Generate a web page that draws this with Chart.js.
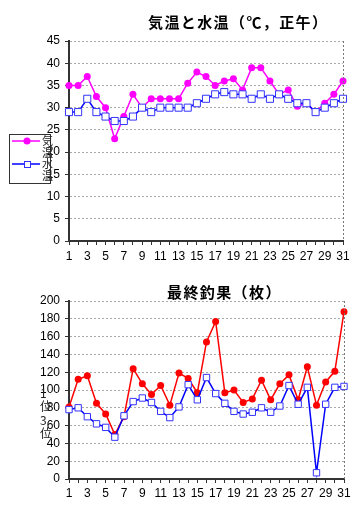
<!DOCTYPE html>
<html lang="ja">
<head>
<meta charset="UTF-8">
<title>気温と水温・最終釣果</title>
<script src="https://cdn.jsdelivr.net/npm/chart.js"></script>
<style>
    body { margin: 0; background: #fff; }
    #wrap { position: relative; width: 361px; height: 524px; overflow: hidden; }
    canvas { position: absolute; left: 0; }
    .title { position: absolute; font: bold 15px "Noto Sans CJK JP"; line-height: 15px; letter-spacing: 1.4px; white-space: nowrap; color: #000; }
    .lg { position: absolute; width: 12px; word-break: break-all; color: #222; font-family: "Noto Sans CJK JP"; }
</style>
</head>
<body>
<div id="wrap">
    <canvas id="tempChart" width="361" height="262" style="top:0"></canvas>
    <canvas id="catchChart" width="361" height="262" style="top:262px"></canvas>

    <div class="title" style="left:148px; top:14px">気温と水温（℃，正午）</div>
    <div class="title" style="left:167px; top:284px">最終釣果（枚）</div>

    <div class="lg" style="left:42px; top:135px; font-size:11px; line-height:11.5px">気温</div>
    <div class="lg" style="left:42px; top:158px; font-size:11px; line-height:11.5px">水温</div>
    <div class="lg" style="left:40px; top:386px; font-size:12px; line-height:13px">1位</div>
    <div class="lg" style="left:40px; top:413px; font-size:12px; line-height:13px">3位</div>
</div>

<script>
    // 日付 (1〜31日)
    const days = Array.from({length: 31}, (_, i) => String(i + 1));

    // 気温・水温 (℃, 正午)
    const airTemp = [35, 35, 37, 32.5, 30, 23, 28, 33, 30, 32, 32, 32, 32, 35.5, 38, 37,
                     35, 36, 36.5, 34, 39, 39, 36, 33, 34, 30.3, 31, 29, 31, 33, 36];
    const waterTemp = [29, 29, 32, 29, 28, 27, 27, 28, 30, 29, 30, 30, 30, 30, 31, 32,
                       33, 33.5, 33, 33, 32, 33, 32, 33, 32, 31, 31, 29, 30, 31, 32];

    // 最終釣果 (枚)
    const rank1 = [81, 112, 116, 85, 73, 50, 70, 124, 107, 95, 105, 83, 119, 113, 97, 154,
                   177, 97, 100, 86, 90, 111, 89, 107, 117, 89, 126, 83, 109, 121, 188];
    const rank3 = [78, 80, 70, 62, 58, 47, 71, 87, 91, 86, 76, 69, 81, 106, 89, 114,
                   96, 85, 76, 73, 75, 80, 75, 82, 105, 84, 103, 7, 84, 103, 104];

    const tickFont = {family: '"Liberation Sans", Arial, sans-serif', size: 12};

    // 右枠の点線と凡例の枠・サンプル
    const framePlugin = {
        id: 'frame',
        afterDraw(chart, args, opts) {
            const ctx = chart.ctx;
            const a = chart.chartArea;
            ctx.save();
            ctx.lineWidth = 1;
            ctx.strokeStyle = '#777';
            ctx.setLineDash([2, 2]);
            ctx.beginPath();
            ctx.moveTo(Math.round(a.right) + 0.5, a.top);
            ctx.lineTo(Math.round(a.right) + 0.5, a.bottom);
            ctx.stroke();
            ctx.setLineDash([]);

            const b = opts.box;
            ctx.strokeStyle = '#333';
            ctx.strokeRect(b[0] + 0.5, b[1] + 0.5, b[2] - b[0], b[3] - b[1]);

            opts.items.forEach(it => {
                ctx.strokeStyle = it.color;
                ctx.lineWidth = 1.5;
                ctx.beginPath();
                ctx.moveTo(it.x1, it.y);
                ctx.lineTo(it.x2, it.y);
                ctx.stroke();
                ctx.lineWidth = 1;
                if (it.style === 'circle') {
                    ctx.fillStyle = it.color;
                    ctx.beginPath();
                    ctx.arc(it.mx, it.y, 3.5, 0, Math.PI * 2);
                    ctx.fill();
                } else {
                    ctx.fillStyle = '#fff';
                    ctx.strokeStyle = it.edge;
                    ctx.fillRect(it.mx - 3, it.y - 3, 6, 6);
                    ctx.strokeRect(it.mx - 3 + 0.5, it.y - 3 + 0.5, 6, 6);
                }
            });
            ctx.restore();
        }
    };

    function makeOptions(yMax, yStep, padTop, padRight, areaBottom, canvasH, xPad, legend) {
        return {
            responsive: false,
            animation: false,
            devicePixelRatio: 1,
            layout: {padding: {left: 0, top: padTop, right: padRight, bottom: 0}},
            plugins: {
                legend: {display: false},
                title: {display: false},
                tooltip: {enabled: false},
                frame: legend
            },
            scales: {
                x: {
                    type: 'category',
                    offset: false,
                    afterFit: s => { s.height = canvasH - areaBottom; },
                    grid: {drawOnChartArea: false, offset: false, tickLength: 4, tickColor: '#333'},
                    border: {color: '#333', width: 2},
                    ticks: {
                        autoSkip: false,
                        maxRotation: 0,
                        padding: xPad,
                        color: '#000',
                        font: tickFont,
                        callback: (v, i) => i % 2 === 0 ? days[i] : ''
                    }
                },
                y: {
                    min: 0,
                    max: yMax,
                    afterFit: s => { s.width = 69; },
                    grid: {color: '#aaa', tickLength: 4, tickColor: '#333', tickBorderDash: []},
                    border: {color: '#333', width: 2, dash: [2, 2]},
                    ticks: {stepSize: yStep, padding: 5, color: '#000', font: tickFont}
                }
            }
        };
    }

    new Chart(document.getElementById('tempChart'), {
        type: 'line',
        data: {
            labels: days,
            datasets: [{
                label: '気温',
                data: airTemp,
                order: 2,
                borderColor: '#ff00ff',
                backgroundColor: '#ff00ff',
                borderWidth: 1.5,
                pointStyle: 'circle',
                pointRadius: 3.5,
                pointBorderWidth: 0,
                tension: 0
            }, {
                label: '水温',
                data: waterTemp,
                order: 1,
                borderColor: '#0000ff',
                backgroundColor: '#ffffff',
                pointBorderColor: '#3333ff',
                borderWidth: 1.5,
                pointStyle: 'rect',
                pointRadius: 5,
                pointBorderWidth: 1,
                tension: 0
            }]
        },
        options: makeOptions(45, 5, 41, 18, 241, 262, 4, {
            box: [9, 134, 50, 183],
            items: [
                {color: '#ff00ff', style: 'circle', x1: 12, x2: 40, mx: 27, y: 141},
                {color: '#0000ff', edge: '#3333ff', style: 'rect', x1: 12, x2: 40, mx: 27, y: 164}
            ]
        }),
        plugins: [framePlugin]
    });

    new Chart(document.getElementById('catchChart'), {
        type: 'line',
        data: {
            labels: days,
            datasets: [{
                label: '1位',
                data: rank1,
                order: 2,
                borderColor: '#ff0000',
                backgroundColor: '#ff0000',
                borderWidth: 1.5,
                pointStyle: 'circle',
                pointRadius: 3.5,
                pointBorderWidth: 0,
                tension: 0
            }, {
                label: '3位',
                data: rank3,
                order: 1,
                borderColor: '#0000ff',
                backgroundColor: '#ffffff',
                pointBorderColor: '#3333ff',
                borderWidth: 1.5,
                pointStyle: 'rect',
                pointRadius: 4.5,
                pointBorderWidth: 1,
                tension: 0
            }]
        },
        options: makeOptions(200, 20, 39, 17, 217, 262, 3, {
            box: [7, 387, 46, 437],
            items: [
                {color: '#ff0000', style: 'circle', x1: 11, x2: 40, mx: 23, y: 394},
                {color: '#0000ff', edge: '#3333ff', style: 'rect', x1: 11, x2: 40, mx: 23, y: 420}
            ]
        }),
        plugins: [framePlugin]
    });
</script>
</body>
</html>
